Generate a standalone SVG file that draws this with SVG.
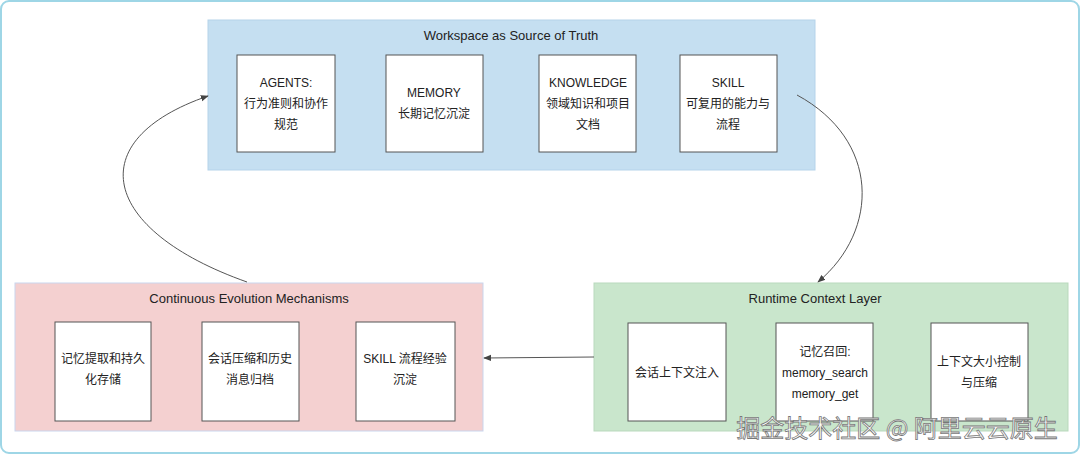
<svg xmlns="http://www.w3.org/2000/svg" width="1080" height="454" viewBox="0 0 1080 454">
<defs>
<marker id="ah" viewBox="0 0 10 10" refX="9" refY="5" markerWidth="8" markerHeight="8" orient="auto-start-reverse"><path d="M0,1 L10,5 L0,9 z" fill="#444"/></marker>
<style>
text{font-family:"Liberation Sans","Noto Sans CJK SC",sans-serif;font-size:12px;fill:#222;text-anchor:middle}
.t{font-size:13px}
.n{fill:#fff;stroke:#555;stroke-width:1}
.c{fill:none;stroke:#555;stroke-width:1;marker-end:url(#ah)}
.wm{font-size:24px;fill:#fff;stroke:#777;stroke-width:0.8;font-family:"Noto Sans CJK SC",sans-serif}
</style>
</defs>
<rect x="1" y="1" width="1078" height="452" rx="8" fill="#fff" stroke="#9ed6e6" stroke-width="2"/>
<g id="workspace"><rect x="208" y="20" width="607" height="150" fill="#c5dff1" stroke="#b5d3ea"/><text class="t" x="511" y="40">Workspace as Source of Truth</text></g>
<g id="agents"><rect class="n" x="237" y="55" width="98" height="97"/><text x="286" y="87">AGENTS:</text><text x="286" y="108">行为准则和协作</text><text x="286" y="129">规范</text></g>
<g id="memory"><rect class="n" x="386" y="55" width="97" height="97"/><text x="434" y="97">MEMORY</text><text x="434" y="118">长期记忆沉淀</text></g>
<g id="knowledge"><rect class="n" x="539" y="55" width="97" height="97"/><text x="588" y="87">KNOWLEDGE</text><text x="588" y="108">领域知识和项目</text><text x="588" y="129">文档</text></g>
<g id="skill"><rect class="n" x="680" y="55" width="97" height="97"/><text x="728" y="87">SKILL</text><text x="728" y="108">可复用的能力与</text><text x="728" y="129">流程</text></g>
<g id="evolution"><rect x="15" y="283" width="468" height="148" fill="#f4d0d0" stroke="#c9d6ee"/><text class="t" x="249" y="303">Continuous Evolution Mechanisms</text></g>
<g id="evo1"><rect class="n" x="55" y="322" width="96" height="99"/><text x="103" y="363">记忆提取和持久</text><text x="103" y="384">化存储</text></g>
<g id="evo2"><rect class="n" x="202" y="322" width="97" height="99"/><text x="250" y="363">会话压缩和历史</text><text x="250" y="384">消息归档</text></g>
<g id="evo3"><rect class="n" x="356" y="322" width="99" height="99"/><text x="405" y="363">SKILL 流程经验</text><text x="405" y="384">沉淀</text></g>
<g id="runtime"><rect x="594" y="283" width="474" height="148" fill="#c9e6cc" stroke="#b9d9bd"/><text class="t" x="815" y="303">Runtime Context Layer</text></g>
<g id="rt1"><rect class="n" x="628" y="323" width="98" height="98"/><text x="677" y="377">会话上下文注入</text></g>
<g id="rt2"><rect class="n" x="776" y="323" width="97" height="98"/><text x="825" y="356">记忆召回:</text><text x="825" y="377">memory_search</text><text x="825" y="398">memory_get</text></g>
<g id="rt3"><rect class="n" x="931" y="323" width="97" height="98"/><text x="979" y="366">上下文大小控制</text><text x="979" y="387">与压缩</text></g>
<g id="connectors">
<path class="c" d="M797,95 C880,140 880,230 818,282"/>
<path class="c" d="M594,357 L484,358"/>
<path class="c" d="M247,282 C100,230 80,140 208,96"/>
</g>
<text class="wm" x="897" y="437">掘金技术社区 @ 阿里云云原生</text>
</svg>
